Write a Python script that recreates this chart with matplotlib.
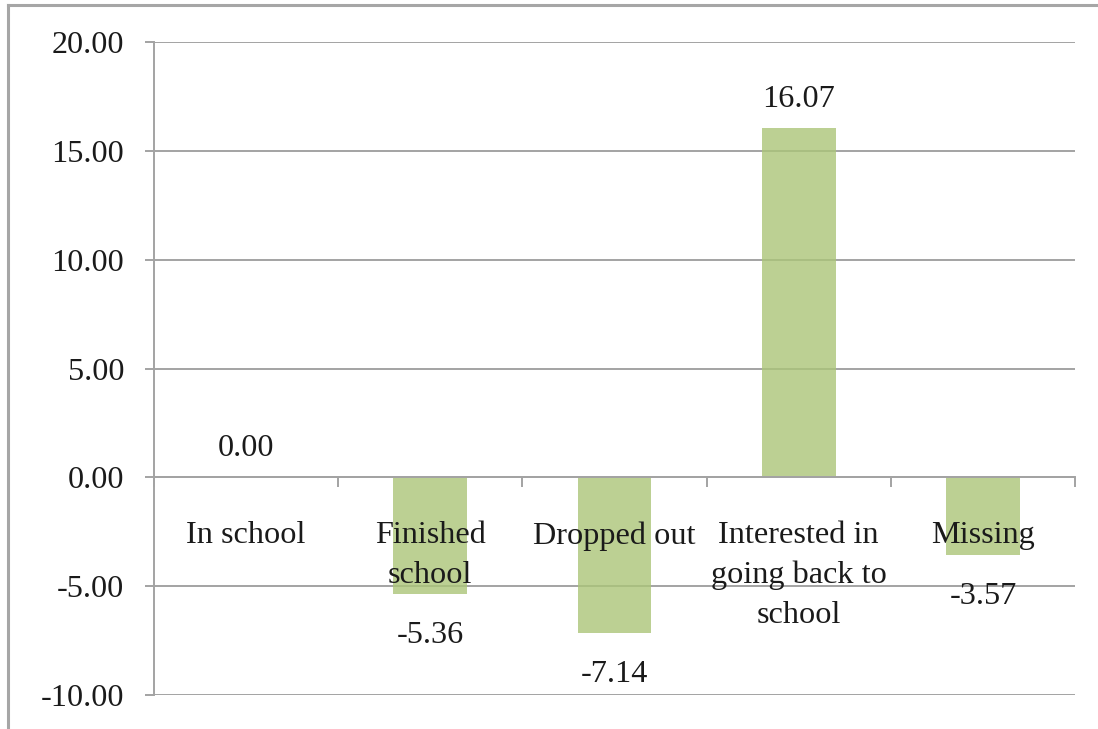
import matplotlib
matplotlib.use("Agg")
import matplotlib.pyplot as plt
from matplotlib.lines import Line2D
import numpy as np

# Data
categories = ["In school", "Finished\nschool", "Dropped out",
              "Interested in\ngoing back to\nschool", "Missing"]
values = [0.00, -5.36, -7.14, 16.07, -3.57]
y_ticks = [-10, -5, 0, 5, 10, 15, 20]

plt.rcParams["font.family"] = ["Liberation Serif", "DejaVu Serif"]
FS = 23.2
GRID = "#a3a3a3"
BAR = "#abc578"
TXT = "#1a1a1a"

fig = plt.figure(figsize=(10.98, 7.29), dpi=100)
ax = fig.add_axes([154 / 1098, 1 - 695 / 729, (1075 - 154) / 1098, (695 - 42) / 729])

x = np.arange(len(categories))
ax.bar(x, values, width=0.4, color=BAR, alpha=0.8, zorder=3, linewidth=0)

ax.set_xlim(-0.5, len(categories) - 0.5)
ax.set_ylim(-10, 20)
ax.set_yticks(y_ticks)
ax.set_yticklabels([f"{v:.2f}" for v in y_ticks], fontsize=FS, color=TXT)
ax.yaxis.grid(True, color=GRID, linewidth=1.4, zorder=2)
ax.set_axisbelow(True)

# category boundaries carry the tick marks
ax.set_xticks(np.arange(len(categories) + 1) - 0.5)
ax.set_xticklabels([])
ax.tick_params(axis="x", which="major", direction="out", length=7.5, width=1.4, color=GRID)
ax.tick_params(axis="y", direction="out", length=6.5, width=1.4, color=GRID, pad=15)

# category names sit below the zero line, drawn over the bars
for xi, name in zip(x, categories):
    ax.annotate(name, (xi, 0), xytext=(0, -44), textcoords="offset pixels",
                ha="center", va="top", fontsize=FS, color=TXT, linespacing=1.47,
                multialignment="center", zorder=6, annotation_clip=False)

for side in ("top", "right"):
    ax.spines[side].set_visible(False)
ax.spines["bottom"].set_position(("data", 0))
ax.spines["bottom"].set_color(GRID)
ax.spines["bottom"].set_linewidth(1.4)
ax.spines["bottom"].set_zorder(4)
ax.spines["left"].set_color(GRID)
ax.spines["left"].set_linewidth(1.4)

# value labels
for xi, v in zip(x, values):
    if v >= 0:
        ax.annotate(f"{v:.2f}", (xi, v), xytext=(0, 14), textcoords="offset pixels",
                    ha="center", va="bottom", fontsize=FS, color=TXT, zorder=6)
    else:
        ax.annotate(f"{v:.2f}", (xi, v), xytext=(0, -27), textcoords="offset pixels",
                    ha="center", va="top", fontsize=FS, color=TXT, zorder=6)

# outer chart frame
fig.add_artist(Line2D([8 / 1098, 8 / 1098], [0, 1 - 4.5 / 729], transform=fig.transFigure,
                      color="#a6a6a6", linewidth=2.2))
fig.add_artist(Line2D([8 / 1098, 1], [1 - 4.5 / 729, 1 - 4.5 / 729], transform=fig.transFigure,
                      color="#a6a6a6", linewidth=2.2))

fig.savefig("out.png", dpi=100)
